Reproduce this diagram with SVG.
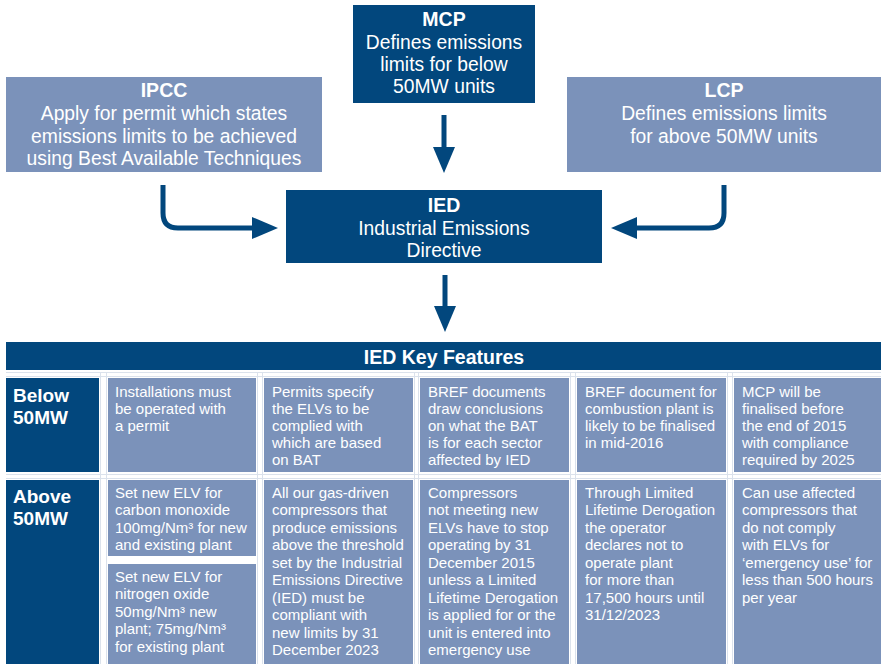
<svg xmlns="http://www.w3.org/2000/svg" width="881" height="664" viewBox="0 0 881 664">
<style>
.dark{fill:#02477D}
.light{fill:#7B92BA}
.edge{fill:none;stroke:#dbe2ec;stroke-width:1}
.t{font-family:"Liberation Sans",Arial,sans-serif;fill:#ffffff}
.big{font-size:19.3px}
.hd{font-size:19.5px;font-weight:bold}
.sm{font-size:15px}
.lbl{font-size:19px;font-weight:bold}
.conn{fill:none;stroke:#02477D;stroke-width:5}
</style>
<defs>
<marker id="ah" viewBox="0 0 26 22" markerUnits="userSpaceOnUse" markerWidth="26" markerHeight="22" refX="0" refY="11" orient="auto">
<path d="M0,0 L26,11 L0,22 Z" fill="#02477D"/>
</marker>
</defs>
<rect width="881" height="664" fill="#ffffff"/>

<g id="mcp">
<rect class="dark" x="353" y="5" width="182" height="98"/>
<text class="t hd" x="444" y="26" text-anchor="middle">MCP</text>
<text class="t big" text-anchor="middle"><tspan x="444" y="49">Defines emissions</tspan><tspan x="444" y="71">limits for below</tspan><tspan x="444" y="93">50MW units</tspan></text>
</g>

<g id="ipcc">
<rect class="light" x="6" y="77" width="316" height="95"/>
<text class="t hd" x="164" y="97" text-anchor="middle">IPCC</text>
<text class="t big" text-anchor="middle"><tspan x="164" y="120">Apply for permit which states</tspan><tspan x="164" y="143">emissions limits to be achieved</tspan><tspan x="164" y="165">using Best Available Techniques</tspan></text>
</g>

<g id="lcp">
<rect class="light" x="567" y="77" width="314" height="95"/>
<text class="t hd" x="724" y="97" text-anchor="middle">LCP</text>
<text class="t big" text-anchor="middle"><tspan x="724" y="120">Defines emissions limits</tspan><tspan x="724" y="143">for above 50MW units</tspan></text>
</g>

<g id="ied">
<rect class="dark" x="286" y="190" width="316" height="73"/>
<text class="t hd" x="444" y="212" text-anchor="middle">IED</text>
<text class="t big" text-anchor="middle"><tspan x="444" y="235">Industrial Emissions</tspan><tspan x="444" y="257">Directive</tspan></text>
</g>

<g id="connectors">
<path class="conn" d="M444,115 V147" marker-end="url(#ah)"/>
<path class="conn" d="M163,185 V213 Q163,228 178,228 H252" marker-end="url(#ah)"/>
<path class="conn" d="M724,185 V213 Q724,228 709,228 H637" marker-end="url(#ah)"/>
<path class="conn" d="M445,275 V306" marker-end="url(#ah)"/>
</g>

<g id="table-header">
<rect class="dark" x="6" y="342" width="875" height="28"/>
<text class="t hd" x="444" y="364" text-anchor="middle">IED Key Features</text>
</g>

<g id="grid">
<line class="edge" x1="6" y1="372.5" x2="881" y2="372.5"/>
<line class="edge" x1="6" y1="376.5" x2="881" y2="376.5"/>
<line class="edge" x1="6" y1="474.5" x2="881" y2="474.5"/>
<line class="edge" x1="6" y1="478.5" x2="881" y2="478.5"/>
<line class="edge" x1="100.5" y1="372" x2="100.5" y2="664"/>
<line class="edge" x1="106.5" y1="372" x2="106.5" y2="664"/>
<line class="edge" x1="257.5" y1="372" x2="257.5" y2="664"/>
<line class="edge" x1="262.5" y1="372" x2="262.5" y2="664"/>
<line class="edge" x1="414.5" y1="372" x2="414.5" y2="664"/>
<line class="edge" x1="418.5" y1="372" x2="418.5" y2="664"/>
<line class="edge" x1="570.5" y1="372" x2="570.5" y2="664"/>
<line class="edge" x1="575.5" y1="372" x2="575.5" y2="664"/>
<line class="edge" x1="727.5" y1="372" x2="727.5" y2="664"/>
<line class="edge" x1="732.5" y1="372" x2="732.5" y2="664"/>
</g>

<g id="below-label">
<rect class="dark" x="6" y="378" width="93" height="94"/>
<text class="t lbl"><tspan x="13" y="402">Below</tspan><tspan x="13" y="424">50MW</tspan></text>
</g>
<g id="below-1">
<rect class="light" x="108" y="378" width="148" height="94"/>
<text class="t sm"><tspan x="115" y="397">Installations must</tspan><tspan x="115" y="414">be operated with</tspan><tspan x="115" y="431">a permit</tspan></text>
</g>
<g id="below-2">
<rect class="light" x="264" y="378" width="149" height="94"/>
<text class="t sm"><tspan x="272" y="397">Permits specify</tspan><tspan x="272" y="414">the ELVs to be</tspan><tspan x="272" y="431">complied with</tspan><tspan x="272" y="448">which are based</tspan><tspan x="272" y="465">on BAT</tspan></text>
</g>
<g id="below-3">
<rect class="light" x="420" y="378" width="149" height="94"/>
<text class="t sm"><tspan x="428" y="397">BREF documents</tspan><tspan x="428" y="414">draw conclusions</tspan><tspan x="428" y="431">on what the BAT</tspan><tspan x="428" y="448">is for each sector</tspan><tspan x="428" y="465">affected by IED</tspan></text>
</g>
<g id="below-4">
<rect class="light" x="577" y="378" width="149" height="94"/>
<text class="t sm"><tspan x="585" y="397">BREF document for</tspan><tspan x="585" y="414">combustion plant is</tspan><tspan x="585" y="431">likely to be finalised</tspan><tspan x="585" y="448">in mid-2016</tspan></text>
</g>
<g id="below-5">
<rect class="light" x="734" y="378" width="147" height="94"/>
<text class="t sm"><tspan x="742" y="397">MCP will be</tspan><tspan x="742" y="414">finalised before</tspan><tspan x="742" y="431">the end of 2015</tspan><tspan x="742" y="448">with compliance</tspan><tspan x="742" y="465">required by 2025</tspan></text>
</g>

<g id="above-label">
<rect class="dark" x="6" y="480" width="93" height="184"/>
<text class="t lbl"><tspan x="13" y="503">Above</tspan><tspan x="13" y="525">50MW</tspan></text>
</g>
<g id="above-1a">
<rect class="light" x="108" y="480" width="148" height="76"/>
<text class="t sm"><tspan x="115" y="497.5">Set new ELV for</tspan><tspan x="115" y="515">carbon monoxide</tspan><tspan x="115" y="532.5">100mg/Nm³ for new</tspan><tspan x="115" y="550">and existing plant</tspan></text>
</g>
<g id="above-1b">
<rect class="light" x="108" y="564" width="148" height="100"/>
<text class="t sm"><tspan x="115" y="581.5">Set new ELV for</tspan><tspan x="115" y="599">nitrogen oxide</tspan><tspan x="115" y="616.5">50mg/Nm³ new</tspan><tspan x="115" y="634">plant; 75mg/Nm³</tspan><tspan x="115" y="651.5">for existing plant</tspan></text>
</g>
<g id="above-2">
<rect class="light" x="264" y="480" width="149" height="184"/>
<text class="t sm"><tspan x="272" y="497.5">All our gas-driven</tspan><tspan x="272" y="515">compressors that</tspan><tspan x="272" y="532.5">produce emissions</tspan><tspan x="272" y="550">above the threshold</tspan><tspan x="272" y="567.5">set by the Industrial</tspan><tspan x="272" y="585">Emissions Directive</tspan><tspan x="272" y="602.5">(IED) must be</tspan><tspan x="272" y="620">compliant with</tspan><tspan x="272" y="637.5">new limits by 31</tspan><tspan x="272" y="655">December 2023</tspan></text>
</g>
<g id="above-3">
<rect class="light" x="420" y="480" width="149" height="184"/>
<text class="t sm"><tspan x="428" y="497.5">Compressors</tspan><tspan x="428" y="515">not meeting new</tspan><tspan x="428" y="532.5">ELVs have to stop</tspan><tspan x="428" y="550">operating by 31</tspan><tspan x="428" y="567.5">December 2015</tspan><tspan x="428" y="585">unless a Limited</tspan><tspan x="428" y="602.5">Lifetime Derogation</tspan><tspan x="428" y="620">is applied for or the</tspan><tspan x="428" y="637.5">unit is entered into</tspan><tspan x="428" y="655">emergency use</tspan></text>
</g>
<g id="above-4">
<rect class="light" x="577" y="480" width="149" height="184"/>
<text class="t sm"><tspan x="585" y="497.5">Through Limited</tspan><tspan x="585" y="515">Lifetime Derogation</tspan><tspan x="585" y="532.5">the operator</tspan><tspan x="585" y="550">declares not to</tspan><tspan x="585" y="567.5">operate plant</tspan><tspan x="585" y="585">for more than</tspan><tspan x="585" y="602.5">17,500 hours until</tspan><tspan x="585" y="620">31/12/2023</tspan></text>
</g>
<g id="above-5">
<rect class="light" x="734" y="480" width="147" height="184"/>
<text class="t sm"><tspan x="742" y="497.5">Can use affected</tspan><tspan x="742" y="515">compressors that</tspan><tspan x="742" y="532.5">do not comply</tspan><tspan x="742" y="550">with ELVs for</tspan><tspan x="742" y="567.5">‘emergency use’ for</tspan><tspan x="742" y="585">less than 500 hours</tspan><tspan x="742" y="602.5">per year</tspan></text>
</g>
</svg>
